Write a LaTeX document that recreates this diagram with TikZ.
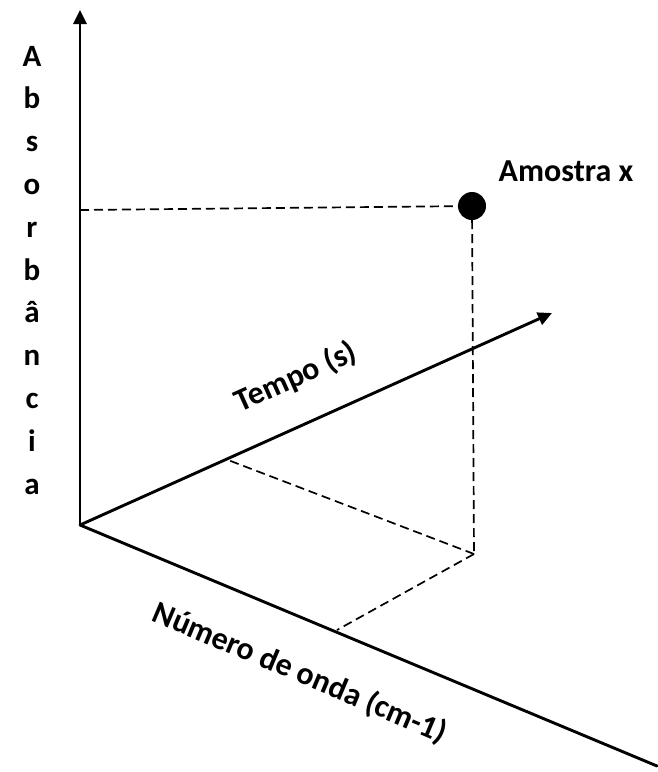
\documentclass[tikz,border=0pt]{standalone}
\usepackage{fontspec}
\setmainfont{Carlito}
\usetikzlibrary{arrows.meta}
\begin{document}
\begin{tikzpicture}[x=1pt,y=-1pt,
  axis/.style={line width=2.9pt},
  axisarrow/.style={axis,-{Triangle[length=14pt,width=13pt]}},
  guide/.style={line width=1.7pt,dash pattern=on 9pt off 5pt},
  lbl/.style={font=\fontsize{32}{34}\selectfont\bfseries,inner sep=0pt},
  letter/.style={font=\fontsize{31}{33}\selectfont\bfseries,inner sep=0pt,anchor=base}]
\useasboundingbox (0,0) rectangle (657,772);

% axes
\coordinate (O) at (80,525);
\coordinate (Ytip) at (80,10);
\coordinate (Ttip) at (552,313);
\coordinate (Nend) at (657,766);

% projection points
\coordinate (Yp) at (80,210);
\coordinate (Base) at (474,554);
\coordinate (Tp) at (228,460);
\coordinate (Np) at (337,630);

% sample point
\node[circle,fill=black,minimum size=28pt,inner sep=0pt] (S) at (472,206) {};
\node[lbl] (Slbl) at (566,171) {Amostra x};

% dashed guides
\draw[guide] (Yp) -- (S.center);
\draw[guide] (S) -- (Base);
\draw[guide] (Base) -- (Tp);
\draw[guide] (Base) -- (Np);

\draw[axisarrow] (O) -- (Ytip);
\draw[axisarrow] (O) -- (Ttip);
\draw[axis,line cap=round] (O) -- (Nend);

% axis labels
\node[lbl,rotate=24.2] (Tlbl) at (296,377) {Tempo (s)};
\node[lbl,rotate=-22.9] (Nlbl) at (300,673) {Número de onda (cm-1)};

% vertical label
\foreach \ch [count=\i] in {A,b,s,o,r,b,â,n,c,i,a}{
  \node[letter] (L\i) at (32,{66+42.8*(\i-1)}) {\ch};
}
\end{tikzpicture}
\end{document}
